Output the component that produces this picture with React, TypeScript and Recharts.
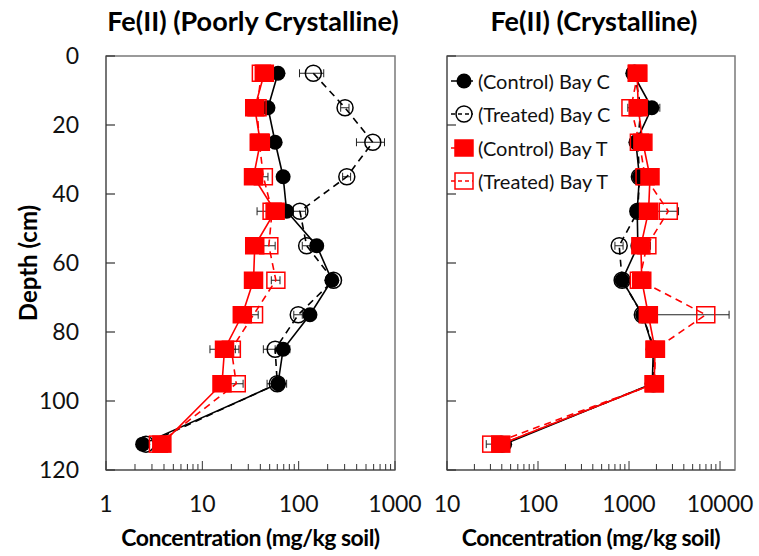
import React from 'react';
import { ScatterChart, Scatter, XAxis, YAxis, ErrorBar, ReferenceArea, Label } from 'recharts';

const depths = [5, 15, 25, 35, 45, 55, 65, 75, 85, 95, 112.5];
const depthTicks = [0, 20, 40, 60, 80, 100, 120];

const seriesNames = ['(Control) Bay C', '(Treated) Bay C', '(Control) Bay T', '(Treated) Bay T'];

// Fe(II), poorly crystalline fraction (mg/kg soil)
const poorControlC = [61, 48, 57, 69, 75, 154, 221, 131, 69, 61, 2.4];
const poorTreatedC = [142, 303, 588, 316, 103, 121, 230, 99, 57, 60, 2.6];
const poorControlT = [44, 35, 40, 34, 57, 35, 34, 26, 17, 16, 3.8];
const poorTreatedT = [41, 37, 39, 43, 53, 49, 58, 34, 20, 22.5, 3.5];

const poorControlCErr = [4, 3, 3, 4, 6, 15, 20, 12, 12, 14, 0.2];
const poorTreatedCErr = [40, 30, 190, 30, 15, 12, 20, 10, 14, 5, 0.2];
const poorControlTErr = [3, 3, 3, 3, 20, 6, 4, 3, 5, 2, 0.3];
const poorTreatedTErr = [3, 3, 3, 5, 4, 8, 6, 4, 4, 4, 0.3];

// Fe(II), crystalline fraction (mg/kg soil)
const crysControlC = [1100, 1780, 1190, 1300, 1230, 1250, 840, 1410, 1850, 1800, 43];
const crysTreatedC = [1150, 1350, 1250, 1300, 1250, 780, 840, 1400, 1900, 1850, 40];
const crysControlT = [1230, 1260, 1420, 1700, 1640, 1350, 1380, 1630, 1930, 1890, 39];
const crysTreatedT = [1250, 1050, 1300, 1500, 2700, 1570, 1300, 6970, 1950, 1900, 31];

const crysControlCErr = [100, 400, 100, 100, 100, 100, 60, 100, 100, 100, 3];
const crysTreatedCErr = [100, 100, 100, 100, 100, 80, 50, 100, 100, 100, 3];
const crysControlTErr = [80, 80, 80, 80, 80, 80, 80, 80, 80, 80, 2];
const crysTreatedTErr = [80, 80, 80, 80, 800, 150, 80, 5600, 100, 100, 4];

const poorDecades = [1, 10, 100, 1000];
const crysDecades = [10, 100, 1000, 10000];

const RED = '#ff0000';
const FONT = 'Lato, "Noto Sans", sans-serif';

type Style = { color: string; square: boolean; filled: boolean; dash?: string };
const styles: Style[] = [
  { color: '#000', square: false, filled: true },
  { color: '#000', square: false, filled: false, dash: '7 5' },
  { color: RED, square: true, filled: true },
  { color: RED, square: true, filled: false, dash: '7 5' },
];

// minor ticks 2..9 in every decade, plus the decades themselves
const logTicks = (decades: number[]) => {
  const out: number[] = [];
  decades.forEach((d, i) => {
    out.push(d);
    if (i < decades.length - 1) for (let m = 2; m <= 9; m++) out.push(d * m);
  });
  return out;
};

function Marker({ cx, cy, s }: { cx: number; cy: number; s: Style }) {
  if (cx == null || cy == null) return null;
  if (s.square) {
    return (
      <rect
        x={cx - 9}
        y={cy - 8}
        width={18}
        height={16}
        fill={s.filled ? s.color : 'none'}
        stroke={s.color}
        strokeWidth={1.5}
      />
    );
  }
  return s.filled ? (
    <circle cx={cx} cy={cy} r={7.5} fill={s.color} />
  ) : (
    <circle cx={cx} cy={cy} r={8} fill="none" stroke={s.color} strokeWidth={1.5} />
  );
}

function XTick(props: any) {
  const { x, y, payload, decades } = props;
  const major = decades.includes(payload.value);
  return (
    <g>
      <line x1={x} x2={x} y1={y} y2={y - (major ? 9 : 6)} stroke="#333" strokeWidth={1} />
      {major && (
        <text x={x} y={y + 42} textAnchor="middle" fontSize={23} fontFamily={FONT} fill="#111">
          {payload.value}
        </text>
      )}
    </g>
  );
}

function YTick(props: any) {
  const { x, y, payload, showLabel } = props;
  return (
    <g>
      <line x1={x} x2={x + 9} y1={y} y2={y} stroke="#333" strokeWidth={1.2} />
      {showLabel && (
        <text x={x - 27} y={y + 8} textAnchor="end" fontSize={23} fontFamily={FONT} fill="#111">
          {payload.value}
        </text>
      )}
    </g>
  );
}

type PanelProps = {
  values: number[][];
  errors: number[][];
  domain: [number, number];
  decades: number[];
  width: number;
  axisWidth: number;
  rightGap: number;
  depthLabels: boolean;
};

function Panel(p: PanelProps) {
  const ticks = logTicks(p.decades);
  return (
    <ScatterChart width={p.width} height={556} margin={{ top: 56, right: p.rightGap, bottom: 0, left: 0 }}>
      <ReferenceArea
        x1={p.domain[0]}
        x2={p.domain[1]}
        y1={0}
        y2={120}
        fill="none"
        stroke="#7a7a7a"
        strokeWidth={1.5}
        ifOverflow="visible"
      />
      <XAxis
        dataKey="x"
        type="number"
        scale="log"
        domain={p.domain}
        allowDataOverflow
        ticks={ticks}
        interval={0}
        height={86}
        tickSize={0}
        tickMargin={0}
        tickLine={false}
        axisLine={{ stroke: '#6a6a6a', strokeWidth: 1.5 }}
        tick={(t: any) => <XTick {...t} decades={p.decades} />}
      >
        <Label
          content={(lp: any) => {
            const vb = lp.viewBox;
            return (
              <text
                x={vb.x + vb.width / 2}
                y={vb.y + 76}
                textAnchor="middle"
                fontSize={23}
                fontWeight={700}
                fontFamily={FONT}
                fill="#000"
                letterSpacing={-0.5}
              >
                Concentration (mg/kg soil)
              </text>
            );
          }}
        />
      </XAxis>
      <YAxis
        dataKey="depth"
        type="number"
        domain={[0, 120]}
        reversed
        ticks={depthTicks}
        interval={0}
        width={p.axisWidth}
        tickSize={0}
        tickMargin={0}
        tickLine={false}
        axisLine={{ stroke: '#6a6a6a', strokeWidth: 1.5 }}
        tick={(t: any) => <YTick {...t} showLabel={p.depthLabels} />}
      >
        {p.depthLabels && (
          <Label
            content={(lp: any) => {
              const vb = lp.viewBox;
              const cy = vb.y + vb.height / 2;
              return (
                <text
                  x={27}
                  y={cy}
                  transform={`rotate(-90 27 ${cy})`}
                  textAnchor="middle"
                  dominantBaseline="central"
                  fontSize={24}
                  fontWeight={700}
                  fontFamily={FONT}
                  fill="#000"
                >
                  Depth (cm)
                </text>
              );
            }}
          />
        )}
      </YAxis>
      {p.values.map((vals, si) => {
        const s = styles[si];
        const rows = depths.map((depth, i) => ({ depth, x: vals[i], err: p.errors[si][i] }));
        return (
          <Scatter
            key={seriesNames[si]}
            name={seriesNames[si]}
            data={rows}
            isAnimationActive={false}
            line={{ stroke: s.color, strokeWidth: 1.6, strokeDasharray: s.dash }}
            lineJointType="linear"
            shape={(sp: any) => <Marker cx={sp.cx} cy={sp.cy} s={s} />}
          >
            <ErrorBar dataKey="err" direction="x" width={4} stroke="#222" strokeWidth={1} />
          </Scatter>
        );
      })}
    </ScatterChart>
  );
}

function LegendIcon({ s }: { s: Style }) {
  return (
    <svg width={24} height={20} style={{ marginRight: 3 }}>
      <line x1={0} x2={22} y1={10} y2={10} stroke={s.color} strokeWidth={1.5} strokeDasharray={s.dash ? '4 3' : undefined} />
      <Marker cx={13} cy={10} s={s} />
    </svg>
  );
}

const titleStyle: React.CSSProperties = {
  position: 'absolute',
  top: 4,
  textAlign: 'center',
  whiteSpace: 'nowrap',
  fontFamily: FONT,
  fontWeight: 700,
  fontSize: 27,
  color: '#000',
};

export default function App() {
  return (
    <div style={{ position: 'absolute', left: 0, top: 0, width: 759, height: 556, background: '#fff', fontFamily: FONT }}>
      <div style={{ ...titleStyle, left: 106, width: 294 }}>Fe(II) (Poorly Crystalline)</div>
      <div style={{ ...titleStyle, left: 450, width: 288 }}>Fe(II) (Crystalline)</div>
      <div style={{ position: 'absolute', left: 0, top: 0 }}>
        <Panel
          values={[poorControlC, poorTreatedC, poorControlT, poorTreatedT]}
          errors={[poorControlCErr, poorTreatedCErr, poorControlTErr, poorTreatedTErr]}
          domain={[1, 1000]}
          decades={poorDecades}
          width={432}
          axisWidth={106}
          rightGap={37}
          depthLabels
        />
      </div>
      <div style={{ position: 'absolute', left: 420, top: 0 }}>
        <Panel
          values={[crysControlC, crysTreatedC, crysControlT, crysTreatedT]}
          errors={[crysControlCErr, crysTreatedCErr, crysControlTErr, crysTreatedTErr]}
          domain={[10, 14600]}
          decades={crysDecades}
          width={339}
          axisWidth={27}
          rightGap={24}
          depthLabels={false}
        />
      </div>
      <div style={{ position: 'absolute', left: 451, top: 64 }}>
        {seriesNames.map((n, i) => (
          <div key={n} style={{ display: 'flex', alignItems: 'center', height: 33.5, fontSize: 20, color: '#111' }}>
            <LegendIcon s={styles[i]} />
            <span>{n}</span>
          </div>
        ))}
      </div>
    </div>
  );
}
